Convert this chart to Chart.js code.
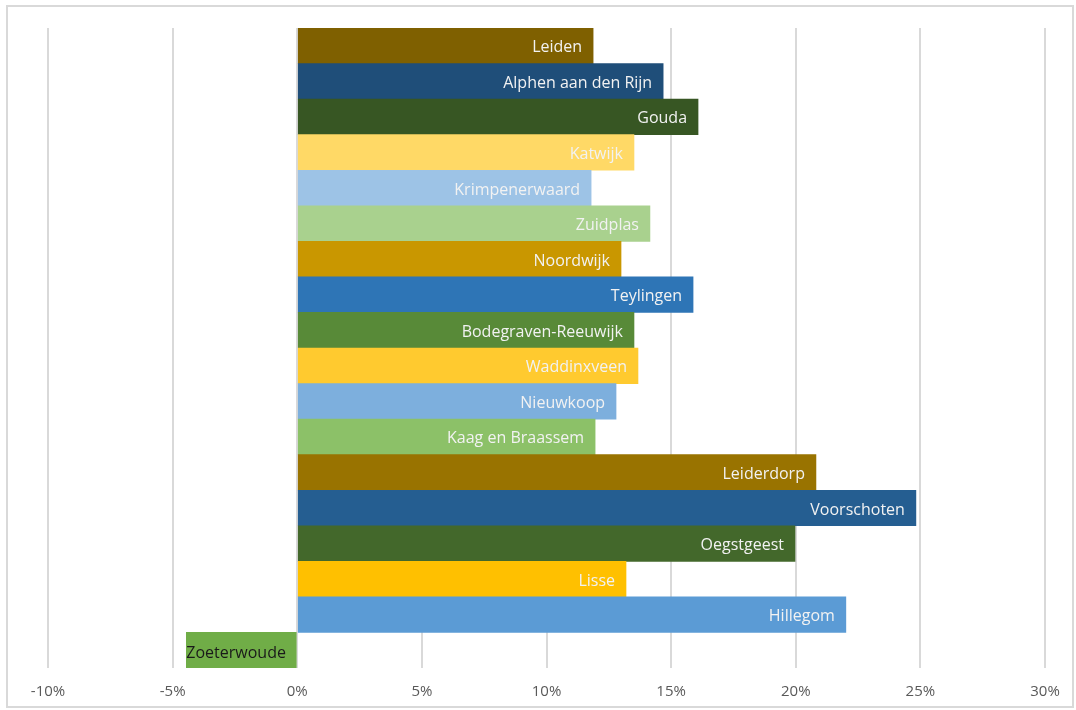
<!DOCTYPE html>
<html>
<head>
<meta charset="utf-8">
<script src="https://cdn.jsdelivr.net/npm/chart.js@4.4.1/dist/chart.umd.min.js"></script>
<style>
  body { margin: 0; background: #fff; }
  #wrap { position: relative; width: 1076px; height: 710px; }
  #frame { position: absolute; left: 6px; top: 5px; width: 1064px; height: 699px; border: 2px solid #d9d9d9; pointer-events: none; }
</style>
</head>
<body>
<div id="wrap">
  <canvas id="chart" width="1076" height="710"></canvas>
  <div id="frame"></div>
</div>
<script>
const gemeenten = ['Leiden', 'Alphen aan den Rijn', 'Gouda', 'Katwijk', 'Krimpenerwaard', 'Zuidplas',
  'Noordwijk', 'Teylingen', 'Bodegraven-Reeuwijk', 'Waddinxveen', 'Nieuwkoop', 'Kaag en Braassem',
  'Leiderdorp', 'Voorschoten', 'Oegstgeest', 'Lisse', 'Hillegom', 'Zoeterwoude']
const groei = [11.87, 14.68, 16.08, 13.51, 11.79, 14.15, 12.99, 15.88, 13.51, 13.67, 12.79, 11.95,
  20.81, 24.82, 19.97, 13.19, 22.01, -4.45]
const kleuren = ['#7f6000', '#1f4e79', '#375623', '#ffd966', '#9dc3e6', '#a9d18e',
  '#c99700', '#2e75b6', '#588a38', '#ffca2f', '#7dafdd', '#8cc168',
  '#997300', '#255e91', '#43682b', '#ffc000', '#5b9bd5', '#70ad47']
const labelKleuren = gemeenten.map(g => g === 'Zoeterwoude' ? '#1a1a1a' : '#f2f2f2')
const xTicks = [-10, -5, 0, 5, 10, 15, 20, 25, 30]

// draw the municipality name inside the end of each bar
const barLabels = {
  id: 'barLabels',
  afterDatasetsDraw(chart) {
    const ctx = chart.ctx
    const meta = chart.getDatasetMeta(0)
    ctx.save()
    ctx.font = '16px "Open Sans", sans-serif'
    ctx.textBaseline = 'middle'
    meta.data.forEach((bar, i) => {
      ctx.fillStyle = labelKleuren[i]
      if (groei[i] >= 0) {
        ctx.textAlign = 'right'
        ctx.fillText(gemeenten[i], bar.x - 11, bar.y + 2)
      } else {
        ctx.textAlign = 'left'
        ctx.fillText(gemeenten[i], bar.x, bar.y + 3)
      }
    })
    ctx.restore()
  }
}

const config = {
  type: 'bar',
  data: {
    labels: gemeenten,
    datasets: [{
      data: groei,
      backgroundColor: kleuren,
      borderWidth: 0,
      barPercentage: 1,
      categoryPercentage: 1
    }]
  },
  options: {
    indexAxis: 'y',
    responsive: false,
    animation: false,
    layout: { padding: { left: 48, right: 31, top: 28, bottom: 9 } },
    plugins: { legend: { display: false }, tooltip: { enabled: false } },
    scales: {
      x: {
        min: -10,
        max: 30,
        afterBuildTicks: axis => { axis.ticks = xTicks.map(v => ({ value: v })) },
        afterFit: axis => { axis.height = 33 },
        grid: { color: '#d9d9d9', lineWidth: 2, drawTicks: false },
        border: { display: false },
        ticks: {
          padding: 15,
          color: '#595959',
          font: { family: '"Open Sans", sans-serif', size: 15 },
          callback: v => v + '%'
        }
      },
      y: { display: false }
    }
  },
  plugins: [barLabels]
}

new Chart(document.getElementById('chart'), config)
</script>
</body>
</html>
